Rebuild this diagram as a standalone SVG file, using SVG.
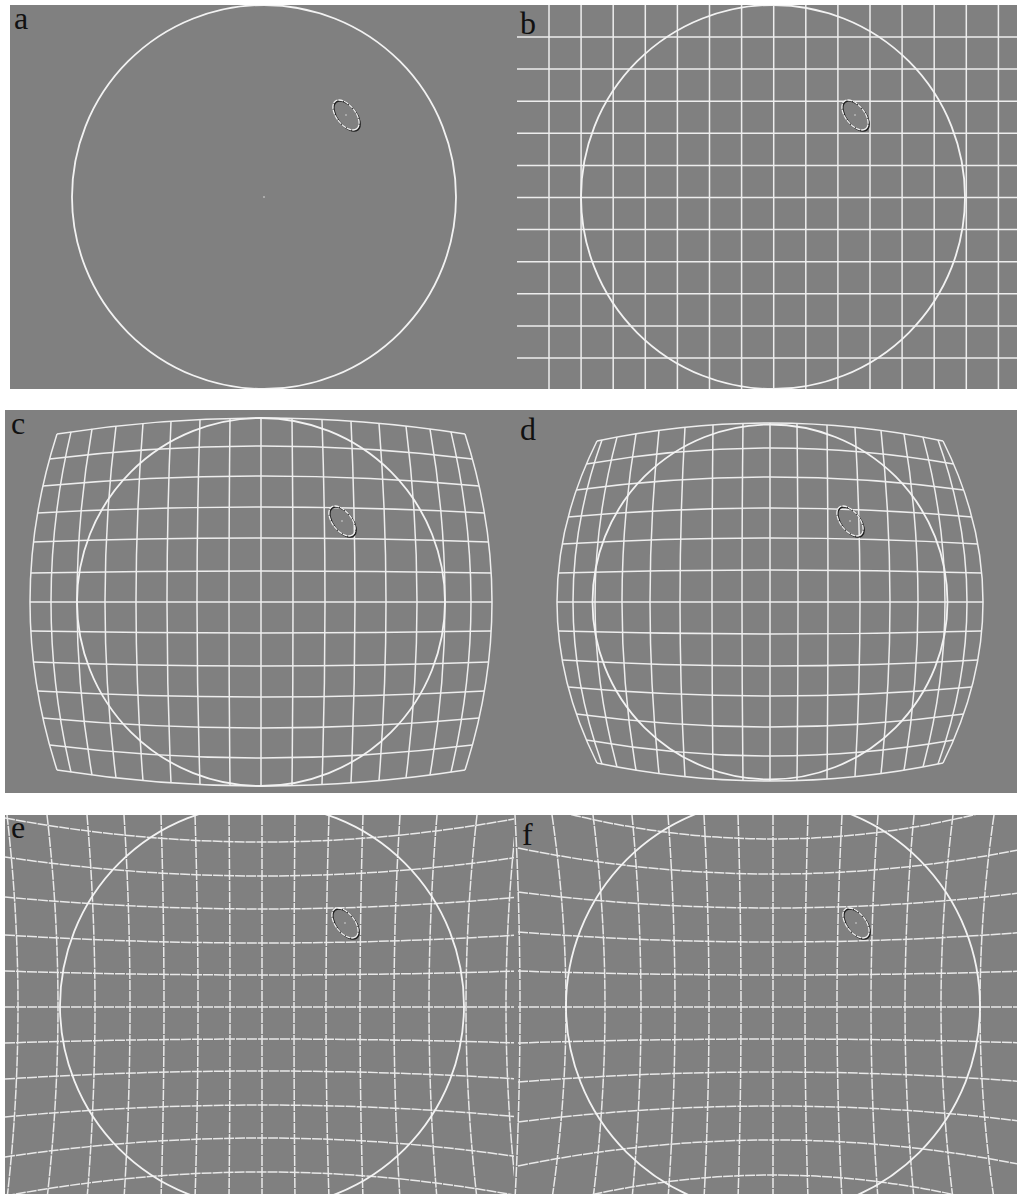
<svg xmlns="http://www.w3.org/2000/svg" width="1017" height="1194" viewBox="0 0 1017 1194">
<style>
.bg{fill:#808080}
.g{fill:none;stroke:#ededed;stroke-width:1.5}
.gd{fill:none;stroke:#e8e8e8;stroke-width:1.5;stroke-dasharray:10 1}
.ring{fill:none;stroke:#f2f2f2;stroke-width:1.8}
.lbl{font-family:"Liberation Serif","Times New Roman",serif;font-size:32px;fill:#111}
</style>
<defs>
<clipPath id="ca"><rect x="10" y="5" width="505" height="384"/></clipPath>
<clipPath id="cb"><rect x="515" y="5" width="502" height="384"/></clipPath>
<clipPath id="cc"><rect x="5" y="410" width="505" height="383"/></clipPath>
<clipPath id="cd"><rect x="510" y="410" width="507" height="383"/></clipPath>
<clipPath id="ce"><rect x="5" y="815" width="509" height="379"/></clipPath>
<clipPath id="cf"><rect x="514" y="815" width="503" height="379"/></clipPath>
<g id="blob">
<ellipse rx="17.5" ry="9.5" transform="translate(1,1) rotate(52)" fill="none" stroke="#202020" stroke-width="1.5"/>
<ellipse rx="17.5" ry="9.5" transform="rotate(52)" fill="none" stroke="#f0f0f0" stroke-width="1.3" stroke-dasharray="5 0.8"/>
<circle r="0.8" fill="#d8d8d8"/>
</g>
</defs>
<rect width="1017" height="1194" fill="#ffffff"/>

<g id="panel-a">
<rect class="bg" x="10" y="5" width="505" height="384"/>
<g clip-path="url(#ca)">
<circle class="ring" cx="264" cy="197" r="192"/>
<circle cx="264" cy="197" r="0.8" fill="#e0e0e0"/>
<use href="#blob" x="346" y="115"/>
</g>
<text class="lbl" x="14" y="29">a</text>
</g>

<g id="panel-b">
<rect class="bg" x="515" y="5" width="502" height="384"/>
<g clip-path="url(#cb)">
<path class="g" d="M517 37H1017M517 69.1H1017M517 101.2H1017M517 133.3H1017M517 165.4H1017M517 197.5H1017M517 229.6H1017M517 261.7H1017M517 293.8H1017M517 325.9H1017M517 358H1017
M549 5V389M581.1 5V389M613.2 5V389M645.3 5V389M677.4 5V389M709.5 5V389M741.6 5V389M773.7 5V389M805.8 5V389M837.9 5V389M870 5V389M902.1 5V389M934.2 5V389M966.3 5V389M998.4 5V389"/>
<circle class="ring" cx="773" cy="197" r="192"/>
<use href="#blob" x="855" y="115"/>
</g>
<text class="lbl" x="520" y="34">b</text>
</g>

<g id="panel-c">
<rect class="bg" x="5" y="410" width="505" height="383"/>
<g clip-path="url(#cc)">
<path class="g" d="M261 418V786
M230 418.4Q228 602 230 785.6M292 418.4Q294 602 292 785.6
M200 419.4Q194 602 200 784.6M322 419.4Q328 602 322 784.6
M171 421.1Q163 602 171 782.9M351 421.1Q359 602 351 782.9
M143 423.4Q129 602 143 780.6M379 423.4Q393 602 379 780.6
M116 426.1Q94 602 116 777.9M406 426.1Q428 602 406 777.9
M92 429Q62 602 92 775M430 429Q460 602 430 775
M71 431.9Q31 602 71 772.1M451 431.9Q491 602 451 772.1
M57 434Q3 602 57 770M465 434Q519 602 465 770"/>
<path class="g" d="M30 602H492
M30.8 573Q261 569 491.2 573M30.8 631Q261 635 491.2 631
M33.4 542Q261 534 488.6 542M33.4 662Q261 670 488.6 662
M37.6 513Q261 501 484.4 513M37.6 691Q261 703 484.4 691
M42.9 486Q261 466 479.1 486M42.9 718Q261 738 479.1 718
M49.6 459Q261 433 472.4 459M49.6 745Q261 771 472.4 745
M57 434Q261 402 465 434M57 770Q261 802 465 770"/>
<circle class="ring" cx="261" cy="602" r="184"/>
<use href="#blob" x="342" y="521"/>
</g>
<text class="lbl" x="11" y="434">c</text>
</g>

<g id="panel-d">
<rect class="bg" x="510" y="410" width="507" height="383"/>
<g clip-path="url(#cd)">
<path class="g" d="M770 423V781
M743 423.4Q741 602 743 780.6M797 423.4Q799 602 797 780.6
M713 425Q711 602 713 779M827 425Q829 602 827 779
M685 427.3Q675 602 685 776.7M855 427.3Q865 602 855 776.7
M659 430.4Q641 602 659 773.6M881 430.4Q899 602 881 773.6
M636 433.8Q608 602 636 770.2M904 433.8Q932 602 904 770.2
M617 437.1Q573 602 617 766.9M923 437.1Q967 602 923 766.9
M602 440Q544 602 602 764M938 440Q996 602 938 764
M597 441Q517 602 597 763M943 441Q1023 602 943 763"/>
<path class="g" d="M557 602H983
M558.3 573Q770 567 981.7 573M558.3 631Q770 637 981.7 631
M562.2 544Q770 532 977.8 544M562.2 660Q770 672 977.8 660
M568.1 517Q770 499 971.9 517M568.1 687Q770 705 971.9 687
M576.4 490Q770 464 963.6 490M576.4 714Q770 740 963.6 714
M586.4 464Q770 432 953.6 464M586.4 740Q770 772 953.6 740
M597 441Q770 405 943 441M597 763Q770 799 943 763"/>
<circle class="ring" cx="770" cy="602" r="177.5"/>
<use href="#blob" x="850" y="521"/>
</g>
<text class="lbl" x="520" y="440">d</text>
</g>

<g id="panel-e">
<rect class="bg" x="5" y="815" width="509" height="379"/>
<g clip-path="url(#ce)">
<path class="gd" d="M262 815V1194
M229 815Q231 1007 229 1199M295 815Q293 1007 295 1199
M195 815Q201 1007 195 1199M329 815Q323 1007 329 1199
M161 815Q167 1007 161 1199M363 815Q357 1007 363 1199
M124 815Q136 1007 124 1199M400 815Q388 1007 400 1199
M87 815Q103 1007 87 1199M437 815Q421 1007 437 1199
M47 815Q69 1007 47 1199M477 815Q455 1007 477 1199
M7 815Q29 1007 7 1199M517 815Q495 1007 517 1199"/>
<path class="gd" d="M5 1007H517
M5 971Q262 979 519 971M5 1043Q262 1035 519 1043
M5 935Q262 951 519 935M5 1079Q262 1063 519 1079
M5 897Q262 921 519 897M5 1117Q262 1093 519 1117
M5 857Q262 895 519 857M5 1157Q262 1119 519 1157
M5 818Q262 866 519 818M5 1196Q262 1148 519 1196"/>
<circle class="ring" cx="262" cy="1006" r="202"/>
<use href="#blob" x="345" y="923"/>
</g>
<text class="lbl" x="11" y="838">e</text>
</g>

<g id="panel-f">
<rect class="bg" x="514" y="815" width="503" height="379"/>
<g clip-path="url(#cf)">
<path class="gd" d="M773 815V1194
M738 815Q744 1007 738 1199M808 815Q802 1007 808 1199
M704 815Q714 1007 704 1199M842 815Q832 1007 842 1199
M668 815Q682 1007 668 1199M878 815Q864 1007 878 1199
M632 815Q650 1007 632 1199M914 815Q896 1007 914 1199
M593 815Q617 1007 593 1199M953 815Q929 1007 953 1199
M552 815Q580 1007 552 1199M994 815Q966 1007 994 1199
M515 815Q525 1007 515 1199"/>
<path class="gd" d="M518 1007H1017
M518 971Q773 979 1028 971M518 1043Q773 1035 1028 1043
M518 932Q773 952 1028 932M518 1082Q773 1062 1028 1082
M518 892Q773 924 1028 892M518 1122Q773 1090 1028 1122
M518 848Q773 900 1028 848M518 1166Q773 1114 1028 1166
M518 800Q773 878 1028 800M518 1214Q773 1136 1028 1214"/>
<circle class="ring" cx="773" cy="1006" r="207"/>
<use href="#blob" x="856" y="923"/>
</g>
<text class="lbl" x="522" y="845">f</text>
</g>
</svg>
